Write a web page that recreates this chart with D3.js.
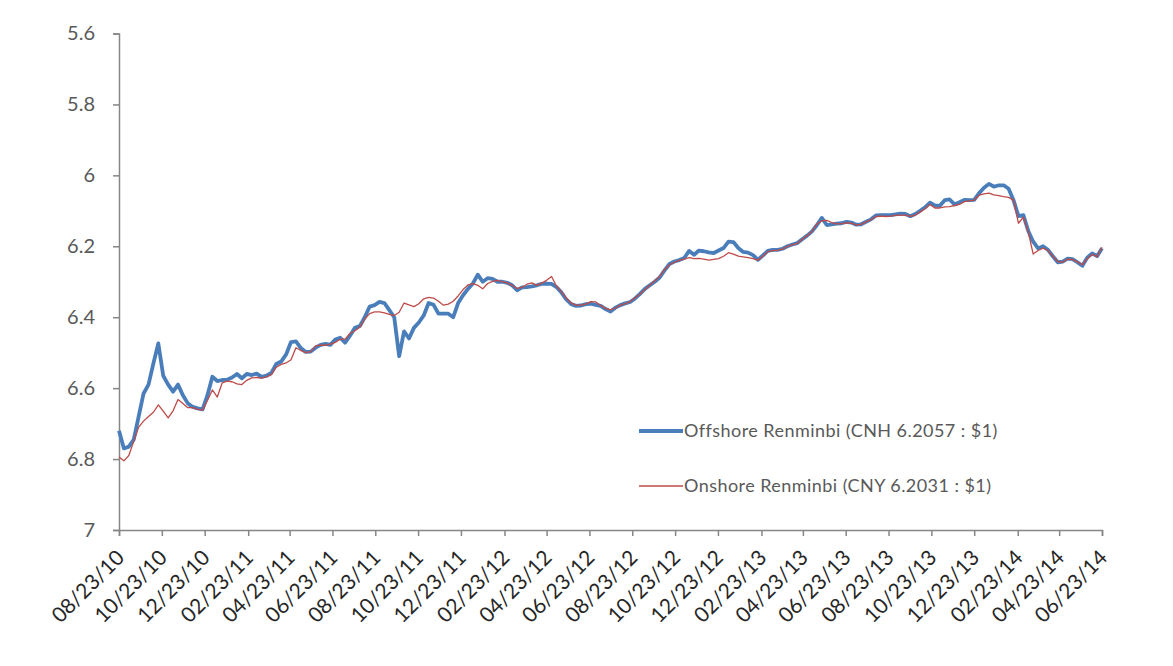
<!DOCTYPE html>
<html>
<head>
<meta charset="utf-8">
<script src="https://cdn.jsdelivr.net/npm/d3@7"></script>
<style>
  body { margin: 0; background: #fff; }
  svg { display: block; }
  text { font-family: Lato, "Open Sans", sans-serif; }
</style>
</head>
<body>
<div id="chart"></div>
<script>
// weekly fixing dates (Mondays)
const dates = [
  "2010-08-23","2010-08-30","2010-09-06","2010-09-13","2010-09-20","2010-09-27","2010-10-04","2010-10-11","2010-10-18","2010-10-25",
  "2010-11-01","2010-11-08","2010-11-15","2010-11-22","2010-11-29","2010-12-06","2010-12-13","2010-12-20","2010-12-27",
  "2011-01-03","2011-01-10","2011-01-17","2011-01-24","2011-01-31","2011-02-07","2011-02-14","2011-02-21","2011-02-28",
  "2011-03-07","2011-03-14","2011-03-21","2011-03-28","2011-04-04","2011-04-11","2011-04-18","2011-04-25","2011-05-02",
  "2011-05-09","2011-05-16","2011-05-23","2011-05-30","2011-06-06","2011-06-13","2011-06-20","2011-06-27","2011-07-04",
  "2011-07-11","2011-07-18","2011-07-25","2011-08-01","2011-08-08","2011-08-15","2011-08-22","2011-08-29","2011-09-05",
  "2011-09-12","2011-09-19","2011-09-26","2011-10-03","2011-10-10","2011-10-17","2011-10-24","2011-10-31","2011-11-07",
  "2011-11-14","2011-11-21","2011-11-28","2011-12-05","2011-12-12","2011-12-19","2011-12-26",
  "2012-01-02","2012-01-09","2012-01-16","2012-01-23","2012-01-30","2012-02-06","2012-02-13","2012-02-20","2012-02-27",
  "2012-03-05","2012-03-12","2012-03-19","2012-03-26","2012-04-02","2012-04-09","2012-04-16","2012-04-23","2012-04-30",
  "2012-05-07","2012-05-14","2012-05-21","2012-05-28","2012-06-04","2012-06-11","2012-06-18","2012-06-25","2012-07-02",
  "2012-07-09","2012-07-16","2012-07-23","2012-07-30","2012-08-06","2012-08-13","2012-08-20","2012-08-27","2012-09-03",
  "2012-09-10","2012-09-17","2012-09-24","2012-10-01","2012-10-08","2012-10-15","2012-10-22","2012-10-29","2012-11-05",
  "2012-11-12","2012-11-19","2012-11-26","2012-12-03","2012-12-10","2012-12-17","2012-12-24","2012-12-31",
  "2013-01-07","2013-01-14","2013-01-21","2013-01-28","2013-02-04","2013-02-11","2013-02-18","2013-02-25","2013-03-04",
  "2013-03-11","2013-03-18","2013-03-25","2013-04-01","2013-04-08","2013-04-15","2013-04-22","2013-04-29","2013-05-06",
  "2013-05-13","2013-05-20","2013-05-27","2013-06-03","2013-06-10","2013-06-17","2013-06-24","2013-07-01","2013-07-08",
  "2013-07-15","2013-07-22","2013-07-29","2013-08-05","2013-08-12","2013-08-19","2013-08-26","2013-09-02","2013-09-09",
  "2013-09-16","2013-09-23","2013-09-30","2013-10-07","2013-10-14","2013-10-21","2013-10-28","2013-11-04","2013-11-11",
  "2013-11-18","2013-11-25","2013-12-02","2013-12-09","2013-12-16","2013-12-23","2013-12-30",
  "2014-01-06","2014-01-13","2014-01-20","2014-01-27","2014-02-03","2014-02-10","2014-02-17","2014-02-24","2014-03-03",
  "2014-03-10","2014-03-17","2014-03-24","2014-03-31","2014-04-07","2014-04-14","2014-04-21","2014-04-28","2014-05-05",
  "2014-05-12","2014-05-19","2014-05-26","2014-06-02","2014-06-09","2014-06-16","2014-06-23"
];

// offshore renminbi, CNH per USD
const cnh = [
  6.72,6.77,6.765,6.745,6.68,6.615,6.59,6.53,6.474,6.565,
  6.59,6.61,6.59,6.62,6.643,6.653,6.657,6.66,6.62,
  6.568,6.58,6.577,6.576,6.57,6.56,6.572,6.56,6.563,
  6.559,6.568,6.565,6.557,6.532,6.525,6.505,6.47,6.468,
  6.487,6.498,6.497,6.486,6.478,6.475,6.478,6.463,6.458,
  6.472,6.452,6.43,6.425,6.40,6.37,6.366,6.357,6.36,
  6.38,6.40,6.51,6.44,6.46,6.43,6.415,6.395,6.36,
  6.365,6.39,6.39,6.39,6.40,6.36,6.338,
  6.32,6.305,6.28,6.30,6.29,6.292,6.30,6.30,6.303,
  6.31,6.324,6.316,6.315,6.313,6.31,6.306,6.305,6.306,
  6.315,6.33,6.35,6.363,6.368,6.367,6.363,6.362,6.365,
  6.368,6.377,6.384,6.373,6.366,6.361,6.357,6.347,6.334,
  6.32,6.31,6.30,6.288,6.268,6.25,6.243,6.239,6.233,
  6.213,6.224,6.212,6.214,6.217,6.219,6.212,6.205,
  6.187,6.188,6.205,6.216,6.218,6.225,6.238,6.226,6.213,
  6.21,6.21,6.207,6.20,6.195,6.191,6.18,6.17,6.158,
  6.14,6.12,6.14,6.138,6.136,6.135,6.131,6.133,6.139,
  6.138,6.131,6.124,6.113,6.112,6.112,6.112,6.11,6.108,
  6.109,6.115,6.109,6.10,6.09,6.077,6.085,6.086,6.07,
  6.068,6.082,6.076,6.069,6.07,6.069,6.05,
  6.035,6.024,6.032,6.028,6.028,6.038,6.07,6.115,6.112,
  6.157,6.187,6.206,6.20,6.21,6.228,6.245,6.243,6.235,
  6.236,6.245,6.255,6.232,6.22,6.228,6.2057
];

// onshore renminbi, CNY per USD
const cny = [
  6.794,6.805,6.79,6.75,6.71,6.693,6.68,6.668,6.647,6.665,
  6.684,6.664,6.632,6.643,6.655,6.655,6.66,6.662,6.635,
  6.605,6.625,6.585,6.58,6.582,6.588,6.59,6.578,6.571,
  6.57,6.572,6.568,6.562,6.541,6.533,6.529,6.52,6.486,
  6.494,6.50,6.497,6.481,6.479,6.479,6.476,6.471,6.462,
  6.462,6.446,6.438,6.428,6.405,6.39,6.385,6.385,6.388,
  6.392,6.395,6.386,6.36,6.365,6.37,6.362,6.348,6.344,
  6.346,6.355,6.366,6.363,6.355,6.34,6.322,
  6.309,6.305,6.31,6.32,6.305,6.299,6.296,6.30,6.303,
  6.31,6.319,6.316,6.307,6.303,6.31,6.304,6.296,6.285,
  6.312,6.328,6.346,6.36,6.366,6.366,6.363,6.356,6.357,
  6.367,6.375,6.379,6.374,6.366,6.362,6.356,6.345,6.335,
  6.322,6.31,6.297,6.285,6.266,6.252,6.245,6.24,6.236,
  6.232,6.235,6.234,6.236,6.239,6.237,6.235,6.228,
  6.218,6.222,6.228,6.23,6.232,6.235,6.239,6.228,6.215,
  6.212,6.211,6.208,6.20,6.196,6.192,6.18,6.17,6.158,
  6.137,6.128,6.127,6.133,6.137,6.136,6.134,6.135,6.14,
  6.138,6.131,6.125,6.116,6.115,6.116,6.115,6.113,6.112,
  6.112,6.116,6.112,6.103,6.094,6.082,6.092,6.092,6.089,
  6.088,6.085,6.082,6.074,6.072,6.07,6.056,
  6.052,6.05,6.055,6.057,6.06,6.062,6.07,6.135,6.118,
  6.16,6.222,6.212,6.205,6.212,6.228,6.243,6.245,6.236,
  6.237,6.244,6.252,6.235,6.223,6.229,6.2031
];

const xTickLabels = [
  "08/23/10","10/23/10","12/23/10","02/23/11","04/23/11","06/23/11","08/23/11","10/23/11",
  "12/23/11","02/23/12","04/23/12","06/23/12","08/23/12","10/23/12","12/23/12","02/23/13",
  "04/23/13","06/23/13","08/23/13","10/23/13","12/23/13","02/23/14","04/23/14","06/23/14"
];
const yTicks = [5.6, 5.8, 6, 6.2, 6.4, 6.6, 6.8, 7];

const seriesNames = ["Offshore Renminbi (CNH 6.2057 : $1)", "Onshore Renminbi (CNY 6.2031 : $1)"];

const width = 1173, height = 666;
const parseIso = d3.timeParse("%Y-%m-%d");
const parseTick = d3.timeParse("%m/%d/%y");

const svg = d3.select("#chart").append("svg")
  .attr("width", width)
  .attr("height", height);

const x = d3.scaleTime()
  .domain([parseTick(xTickLabels[0]), parseTick(xTickLabels[xTickLabels.length - 1])])
  .range([119, 1102]);

// inverted: 5.6 on top, 7 at the bottom
const y = d3.scaleLinear()
  .domain([5.6, 7])
  .range([33.5, 530]);

const axisColor = "#868686";

// y axis
const yAxis = svg.append("g")
  .attr("transform", "translate(119,0)")
  .call(d3.axisLeft(y).tickValues(yTicks).tickSize(6).tickPadding(18).tickFormat(d3.format("")));
yAxis.select(".domain").attr("stroke", axisColor).attr("stroke-width", 1.5);
yAxis.selectAll(".tick line").attr("stroke", axisColor).attr("stroke-width", 1.5);
yAxis.selectAll(".tick text")
  .attr("fill", "#595959")
  .style("font-size", "20px");

// x axis
const xAxis = svg.append("g")
  .attr("transform", "translate(0,530)")
  .call(d3.axisBottom(x).tickValues(xTickLabels.map(parseTick)).tickSize(6).tickFormat(d3.timeFormat("%m/%d/%y")));
xAxis.select(".domain").attr("stroke", axisColor).attr("stroke-width", 1.5);
xAxis.selectAll(".tick line").attr("stroke", axisColor).attr("stroke-width", 1.5);
xAxis.selectAll(".tick text")
  .attr("fill", "#262626")
  .style("font-size", "21px")
  .attr("text-anchor", "end")
  .attr("dy", null)
  .attr("y", 0)
  .attr("transform", "translate(6,29) rotate(-45)");

const rows = dates.map((d, i) => ({ date: parseIso(d), cnh: cnh[i], cny: cny[i] }));

const lineCnh = d3.line().x(d => x(d.date)).y(d => y(d.cnh));
const lineCny = d3.line().x(d => x(d.date)).y(d => y(d.cny));

svg.append("path")
  .datum(rows)
  .attr("fill", "none")
  .attr("stroke", "#4a7ebb")
  .attr("stroke-width", 3.8)
  .attr("stroke-linejoin", "round")
  .attr("d", lineCnh);

svg.append("path")
  .datum(rows)
  .attr("fill", "none")
  .attr("stroke", "#be4b48")
  .attr("stroke-width", 1.3)
  .attr("stroke-linejoin", "round")
  .attr("d", lineCny);

// legend
const legend = svg.append("g").attr("transform", "translate(639,431)");
const legendStyles = [
  { color: "#4a7ebb", w: 3.8 },
  { color: "#be4b48", w: 1.3 }
];
seriesNames.forEach((name, i) => {
  const g = legend.append("g").attr("transform", `translate(0,${i * 55})`);
  g.append("line")
    .attr("x1", 0).attr("x2", 44)
    .attr("stroke", legendStyles[i].color)
    .attr("stroke-width", legendStyles[i].w);
  g.append("text")
    .attr("x", 45)
    .attr("dy", "0.35em")
    .attr("fill", "#595959")
    .style("font-size", "18px")
    .style("letter-spacing", "0.45px")
    .text(name);
});
</script>
</body>
</html>
